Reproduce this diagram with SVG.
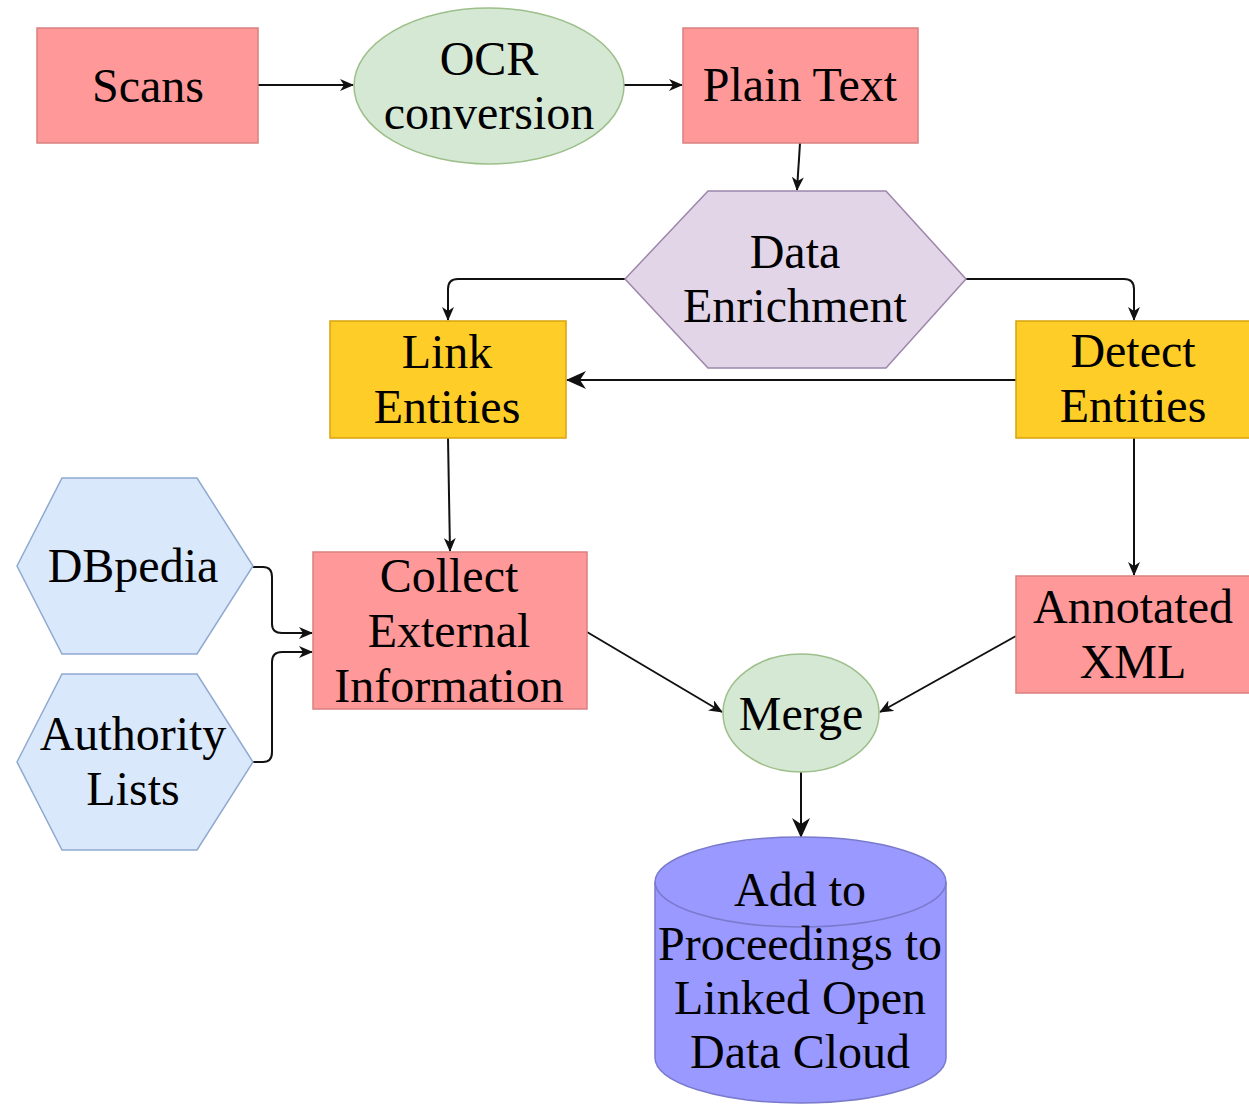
<svg xmlns="http://www.w3.org/2000/svg" width="1249" height="1105" viewBox="0 0 1249 1105">
<style>
text{font-family:"Liberation Serif","Times New Roman",serif;font-size:48px;fill:#000;text-anchor:middle}
.pink{fill:#FF9999;stroke:#D98080;stroke-width:1.5}
.gold{fill:#FFCD28;stroke:#D7A20B;stroke-width:1.5}
.green{fill:#D5E8D4;stroke:#9DBF8A;stroke-width:1.5}
.purple{fill:#E1D5E7;stroke:#9C86AC;stroke-width:1.5}
.blue{fill:#DAE8FC;stroke:#8FA9CF;stroke-width:1.5}
.cyl{fill:#9999FF;stroke:#7A7ACC;stroke-width:1.5}
.edge{fill:none;stroke:#111;stroke-width:2}
</style>
<defs>
<marker id="arr" markerUnits="userSpaceOnUse" markerWidth="14" markerHeight="12" refX="13" refY="6" orient="auto">
<path d="M0,0 L14,6 L0,12 L4,6 Z" fill="#111"/>
</marker>
<marker id="big" markerUnits="userSpaceOnUse" markerWidth="20" markerHeight="18" refX="19" refY="9" orient="auto">
<path d="M0,0 L20,9 L0,18 L6,9 Z" fill="#111"/>
</marker>
</defs>
<rect width="1249" height="1105" fill="#fff"/>
<g id="connectors">
<path class="edge" d="M258,85 H353" marker-end="url(#arr)"/>
<path class="edge" d="M624,85 H682" marker-end="url(#arr)"/>
<path class="edge" d="M800,143 L797,190" marker-end="url(#arr)"/>
<path class="edge" d="M625,279 H458 Q448,279 448,289 V320" marker-end="url(#arr)"/>
<path class="edge" d="M966,279 H1124 Q1134,279 1134,289 V320" marker-end="url(#arr)"/>
<path class="edge" d="M1016,380 H567" marker-end="url(#big)"/>
<path class="edge" d="M448,438 L450,551" marker-end="url(#arr)"/>
<path class="edge" d="M1134,438 V575" marker-end="url(#arr)"/>
<path class="edge" d="M253,567 H263 Q272,567 272,577 V624 Q272,633 282,633 H312" marker-end="url(#arr)"/>
<path class="edge" d="M253,762 H263 Q272,762 272,752 V662 Q272,652 282,652 H312" marker-end="url(#arr)"/>
<path class="edge" d="M587,632 L722,712" marker-end="url(#arr)"/>
<path class="edge" d="M1016,636 L880,712" marker-end="url(#arr)"/>
<path class="edge" d="M801,772 V837" marker-end="url(#big)"/>
</g>
<g id="scans">
<rect class="pink" x="37" y="28" width="221" height="115"/>
<text x="148" y="102">Scans</text>
</g>
<g id="ocr">
<ellipse class="green" cx="489" cy="86" rx="135" ry="78"/>
<text x="489" y="75">OCR</text>
<text x="489" y="129">conversion</text>
</g>
<g id="plain-text">
<rect class="pink" x="683" y="28" width="235" height="115"/>
<text x="800" y="101">Plain Text</text>
</g>
<g id="data-enrichment">
<polygon class="purple" points="625,279 708,191 886,191 966,279 886,368 708,368"/>
<text x="795" y="268">Data</text>
<text x="795" y="322">Enrichment</text>
</g>
<g id="link-entities">
<rect class="gold" x="330" y="321" width="236" height="117"/>
<text x="447" y="368">Link</text>
<text x="447" y="423">Entities</text>
</g>
<g id="detect-entities">
<rect class="gold" x="1016" y="321" width="240" height="117"/>
<text x="1133" y="367">Detect</text>
<text x="1133" y="422">Entities</text>
</g>
<g id="dbpedia">
<polygon class="blue" points="17,566 62,478 197,478 253,566 197,654 62,654"/>
<text x="133" y="582">DBpedia</text>
</g>
<g id="authority-lists">
<polygon class="blue" points="17,762 62,674 197,674 253,762 197,850 62,850"/>
<text x="133" y="750">Authority</text>
<text x="133" y="805">Lists</text>
</g>
<g id="collect-external">
<rect class="pink" x="313" y="552" width="274" height="157"/>
<text x="449" y="592">Collect</text>
<text x="449" y="647">External</text>
<text x="449" y="702">Information</text>
</g>
<g id="annotated-xml">
<rect class="pink" x="1016" y="576" width="240" height="117"/>
<text x="1133" y="623">Annotated</text>
<text x="1133" y="678">XML</text>
</g>
<g id="merge">
<ellipse class="green" cx="801" cy="713" rx="78" ry="59"/>
<text x="801" y="730">Merge</text>
</g>
<g id="lod-cloud">
<path class="cyl" d="M655,882 A145.5,45 0 0 1 946,882 V1058 A145.5,45 0 0 1 655,1058 Z"/>
<path class="cyl" fill="none" d="M655,882 A145.5,45 0 0 0 946,882" style="fill:none"/>
<text x="800" y="906">Add to</text>
<text x="800" y="960">Proceedings to</text>
<text x="800" y="1014">Linked Open</text>
<text x="800" y="1068">Data Cloud</text>
</g>
</svg>
